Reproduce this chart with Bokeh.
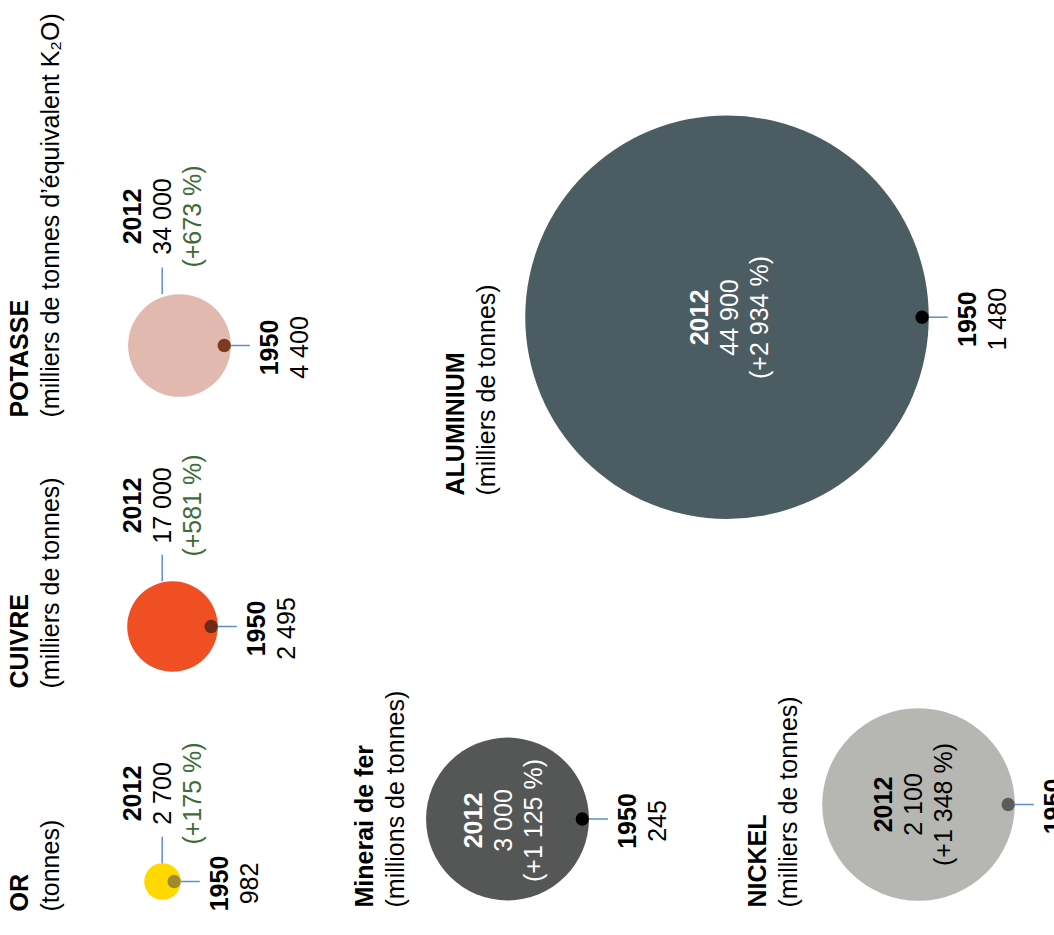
from math import pi
from bokeh.plotting import figure
from bokeh.models import ColumnDataSource, Range1d
from bokeh.core.properties import value
from bokeh.embed import file_html
from bokeh.resources import INLINE

# ---------------- data ----------------
names = ["OR", "CUIVRE", "POTASSE", "Minerai de fer", "NICKEL", "ALUMINIUM"]
units = ["(tonnes)", "(milliers de tonnes)", "(milliers de tonnes d\u2019\u00e9quivalent K\u2082O)",
         "(millions de tonnes)", "(milliers de tonnes)", "(milliers de tonnes)"]
v1950 = [982, 2495, 4400, 245, 145, 1480]
v2012 = [2700, 17000, 34000, 3000, 2100, 44900]
pct = ["+175\u00a0%", "+581\u00a0%", "+673\u00a0%", "+1\u00a0125\u00a0%", "+1\u00a0348\u00a0%", "+2\u00a0934\u00a0%"]
year_a = "1950"
year_b = "2012"

# ---------------- styles ----------------
fill = ["#FFD800", "#F04E23", "#E2B9AF", "#555756", "#B6B7B3", "#4B5C62"]
dot_fill = ["#A08A2E", "#6E2A17", "#7B3A22", "#000000", "#5B5B5B", "#000000"]
inside = [False, False, False, True, True, True]
inside_col = ["#000000", "#000000", "#000000", "#FFFFFF", "#000000", "#FFFFFF"]
LEAD = "#5C8FC8"
GREEN = "#3F6B38"
FONT = value("Liberation Sans")
FS = value("25px")
LINE = 30
DOT_R = 6.65
TX = -11  # text anchor correction for rotated baseline

# ---------------- layout (screen px) ----------------
cx = [162, 172, 179, 507, 918, 726.5]
cy = [881, 626, 345, 818.5, 804, 316.7]
title_x = [29, 29, 29, 374, 767, 465]
title_y = [911, 688, 417, 907, 907, 495]
lab_x = [142, 142, 142, 483, 893, 709]
lab_y = [793, 505, 216, 820, 804, 317]
lead_x = 161.7

W, H = 1054, 935


def fmt(n):
    return f"{n:,}".replace(",", "\u00a0")


p = figure(width=W, height=H, output_backend="svg", toolbar_location=None,
           x_range=Range1d(0, W), y_range=Range1d(-H, 0), min_border=0)
p.axis.visible = False
p.grid.visible = False
p.outline_line_color = None
p.background_fill_color = "white"

radius = [DOT_R * b / a for a, b in zip(v1950, v2012)]

# circles
p.circle(x=cx, y=[-v for v in cy], radius=radius, fill_color=fill, line_color=None)
# 1950 dots
dx = [c + r - DOT_R for c, r in zip(cx, radius)]
p.circle(x=dx, y=[-v for v in cy], radius=DOT_R, fill_color=dot_fill, line_color=None)

# 1950 leader
p.segment(x0=[c + r for c, r in zip(cx, radius)], y0=[-v for v in cy],
          x1=[c + r + 19 for c, r in zip(cx, radius)], y1=[-v for v in cy],
          line_color=LEAD, line_width=1.5)

# 2012 leader (outside labels)
oi = [i for i in range(6) if not inside[i]]
p.segment(x0=[lead_x] * len(oi), y0=[-(cy[i] - radius[i]) for i in oi],
          x1=[lead_x] * len(oi), y1=[-(cy[i] - radius[i] - 26.5) for i in oi],
          line_color=LEAD, line_width=1.5)


def txt(xs, ys, texts, color, bold=False, align="left"):
    src = ColumnDataSource(dict(x=[v + TX for v in xs], y=[-v for v in ys], t=texts, c=color))
    p.text(x="x", y="y", text="t", source=src, angle=pi / 2, text_color="c",
           text_font=FONT, text_font_size=FS,
           text_font_style="bold" if bold else "normal",
           text_align=align, text_baseline="alphabetic")


# titles
txt(title_x, title_y, names, ["#000000"] * 6, bold=True)
txt([x + 31 for x in title_x], title_y, units, ["#000000"] * 6)

# 2012 labels
txt(lab_x, lab_y, [year_b] * 6, inside_col, bold=True, align="center")
txt([x + LINE for x in lab_x], lab_y, [fmt(v) for v in v2012], inside_col, align="center")
pct_col = [inside_col[i] if inside[i] else GREEN for i in range(6)]
txt([x + 2 * LINE for x in lab_x], lab_y, ["(" + s + ")" for s in pct], pct_col, align="center")

# 1950 labels
bx = [c + r + 19 + 30 for c, r in zip(cx, radius)]
txt(bx, [v + 2 for v in cy], [year_a] * 6, ["#000000"] * 6, bold=True, align="center")
txt([x + LINE for x in bx], [v + 2 for v in cy], [fmt(v) for v in v1950], ["#000000"] * 6, align="center")

open("out.html", "w").write(file_html(p, INLINE))
